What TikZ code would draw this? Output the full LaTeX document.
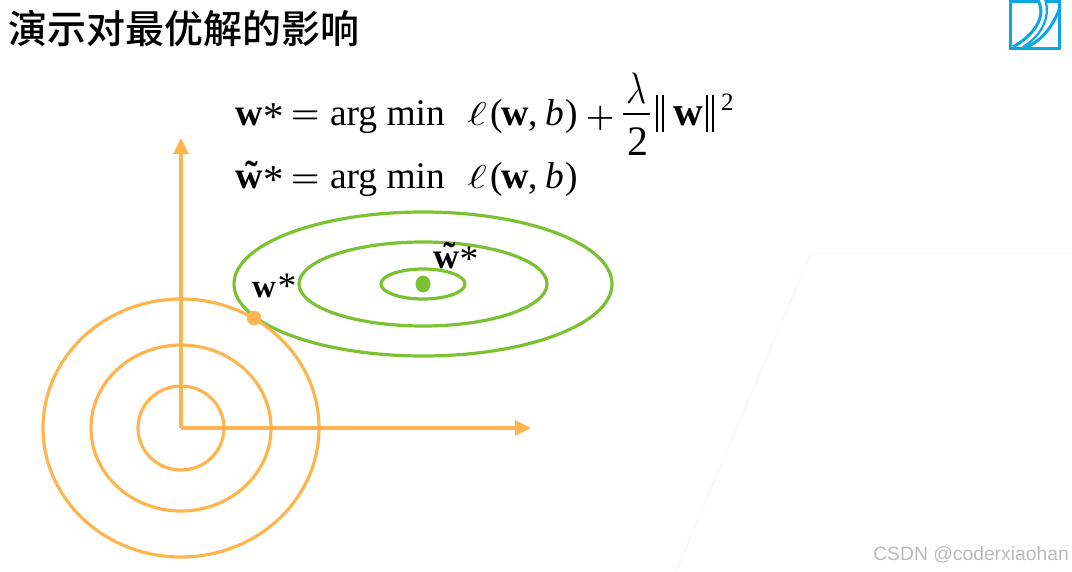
\RequirePackage{fix-cm}
\documentclass[tikz,border=0pt]{standalone}
\usepackage{graphicx}
\usepackage{fontspec}
\setmainfont{Liberation Serif}
\newfontfamily\cjkbold[BoldFont={Noto Sans CJK SC Medium}]{Noto Sans CJK SC}
\newfontfamily\wmfont{Liberation Sans}
\usetikzlibrary{arrows.meta}
\definecolor{orangeline}{HTML}{FFB54F}
\definecolor{greenline}{HTML}{7CC133}
\definecolor{logoblue}{HTML}{0CA6E0}
\tikzset{
  txt/.style={inner sep=0pt,outer sep=0pt,anchor=base west,font=\fontsize{37.5}{37.5}\selectfont},
  bigw/.style={txt,font=\fontsize{38}{38}\selectfont\bfseries},
  lblw/.style={txt,font=\fontsize{33}{33}\selectfont\bfseries},
  starmark/.style={txt,font=\fontsize{41}{41}\selectfont},
  opsign/.style={txt,font=\fontsize{32.5}{32.5}\selectfont\boldmath},
  orangeloop/.style={draw=orangeline,line width=3.2pt},
  greenloop/.style={draw=greenline,line width=3.2pt},
  axisline/.style={draw=orangeline,line width=3.4pt,-{Triangle[length=16pt,width=15pt]},shorten >=-1pt},
  faint/.style={draw=black!5,line width=0.7pt},
  logoline/.style={draw=logoblue,line width=3pt},
}
\newcommand{\twid}[1]{w\llap{\raisebox{0.02em}{\char"02DC}\kern0.1em}}
\newcommand{\nbars}{\rule[-7pt]{1.6pt}{37pt}\kern4.4pt\rule[-7pt]{1.6pt}{37pt}}
\newcommand{\bigell}{\fontsize{33}{33}\selectfont\scalebox{1.45}[1]{$\ell$}}
\begin{document}
\begin{tikzpicture}[x=1pt,y=-1pt]
\useasboundingbox (0,0) rectangle (1072,571);
% faint background lines
\coordinate (fa) at (1072,253);
\coordinate (fb) at (811,253);
\coordinate (fc) at (676,571);
\draw[faint] (fa) -- (fb) -- (fc);
% title
\node[inner sep=0pt,anchor=base west] (title) at (8,43) {\fontsize{39}{39}\cjkbold\bfseries 演示对最优解的影响};
% logo
\begin{scope}
\clip (1000,0) rectangle (1070,52);
\draw[logoline] (1010.5,1.5) rectangle (1059.5,48.5);
\fill[white] (1038,-1) rectangle (1045,5);
\draw[logoline] (1013,47) .. controls (1032,36) and (1048,18) .. (1037.5,-1);
\draw[logoline,line width=2.2pt] (1023,47) .. controls (1038,38) and (1052,20) .. (1045,-1);
\draw[logoline] (1026,47) .. controls (1040,42) and (1052,28) .. (1059,10);
\end{scope}
% formula, first line
\node[bigw] (l1a) at (235,125) {w};
\node[starmark] (l1b) at (263,130) {*};
\node[opsign] (l1c) at (291,123.7) {$=$};
\node[txt] (l1d) at (330,125) {arg min};
\node[txt] (l1e) at (467,125) {\bigell};
\node[txt] (l1f) at (490,125) {(};
\node[bigw] (l1g) at (501,125) {w};
\node[txt] (l1h) at (528,125) {,};
\node[txt] (l1i) at (545,125) {\textit{b}};
\node[txt] (l1j) at (565,125) {)};
\node[opsign] (l1k) at (586,126) {$+$};
\node[txt,font=\fontsize{44}{44}\selectfont] (lam) at (626,103) {\scalebox{0.8}[1]{$\lambda$}};
\coordinate (fl) at (623,114);
\coordinate (fr) at (650,114);
\draw[line width=2pt] (fl) -- (fr);
\node[txt,font=\fontsize{42}{42}\selectfont] (two) at (627,155) {2};
\node[txt] (nl) at (656.2,125) {\nbars};
\node[txt,font=\fontsize{41}{41}\selectfont\bfseries] (nw) at (673,125) {w};
\node[txt] (nr) at (706.2,125) {\nbars};
\node[txt,font=\fontsize{25}{25}\selectfont] (sq) at (721,110) {2};
% formula, second line
\node[bigw] (l2a) at (235,188.5) {\twid{w}};
\node[starmark] (l2b) at (263,193) {*};
\node[opsign] (l2c) at (291,187.2) {$=$};
\node[txt] (l2d) at (330,188.5) {arg min};
\node[txt] (l2e) at (467,188.5) {\bigell};
\node[txt] (l2f) at (490,188.5) {(};
\node[bigw] (l2g) at (501,188.5) {w};
\node[txt] (l2h) at (528,188.5) {,};
\node[txt] (l2i) at (545,188.5) {\textit{b}};
\node[txt] (l2j) at (565,188.5) {)};
% green contours
\draw[greenloop] (423,284) ellipse [x radius=189,y radius=72];
\draw[greenloop] (423,284) ellipse [x radius=124,y radius=42];
\draw[greenloop] (423,284) ellipse [x radius=42,y radius=15];
\fill[greenline] (423,284) ellipse [x radius=7.5,y radius=8.5];
% orange contours
\draw[orangeloop] (181,428) ellipse [x radius=138,y radius=129];
\draw[orangeloop] (181,428) ellipse [x radius=90,y radius=83];
\draw[orangeloop] (181,428) ellipse [x radius=43,y radius=42];
\coordinate (o) at (181,428);
\coordinate (ytip) at (181,139);
\coordinate (xtip) at (530,428);
\draw[axisline] (o) -- (ytip);
\draw[axisline] (o) -- (xtip);
\fill[orangeline] (254,318) circle (7.3);
% labels
\node[lblw] (lw) at (252,297) {w};
\node[txt] (lws) at (277.5,298) {*};
\node[lblw,font=\fontsize{36}{36}\selectfont\bfseries] (ltw) at (433,268) {\twid{w}};
\node[txt] (ltws) at (459.5,271) {*};
% watermark
\node[inner sep=0pt,anchor=base east,text=black!27,font=\fontsize{19.3}{19.3}\wmfont] (wm) at (1069,560) {CSDN @coderxiaohan};
\end{tikzpicture}
\end{document}
